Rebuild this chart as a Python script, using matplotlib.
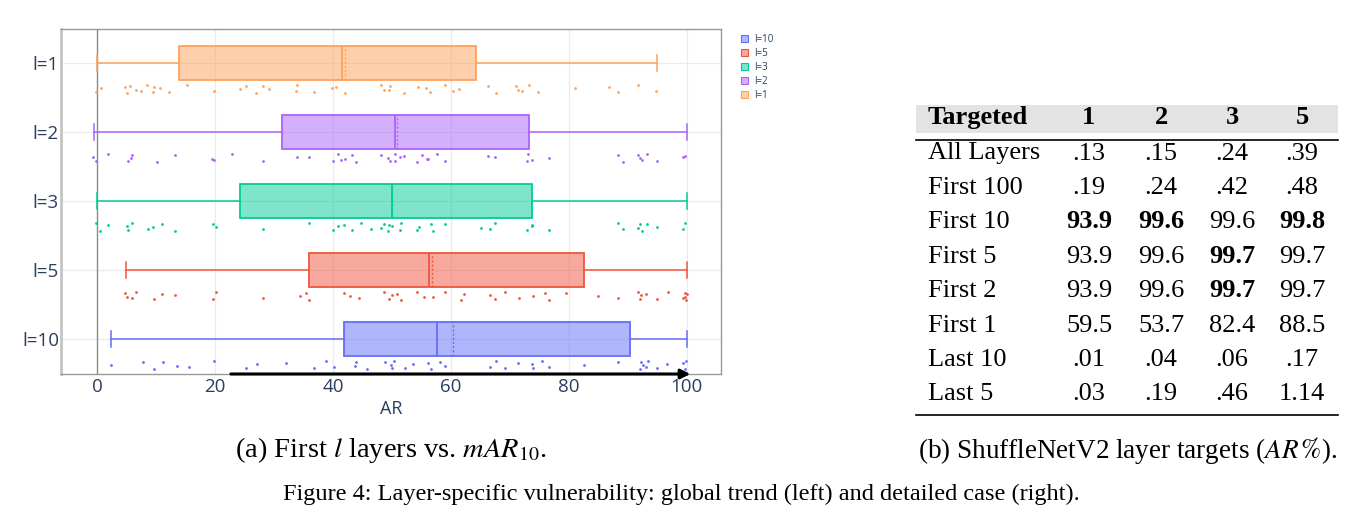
import numpy as np
import matplotlib
matplotlib.use("Agg")
import matplotlib.pyplot as plt
from matplotlib.patches import Patch, Rectangle
from matplotlib.lines import Line2D

# ---------------- data ----------------
categories = ["l=10", "l=5", "l=3", "l=2", "l=1"]
colors = ["#636efa", "#EF553B", "#00cc96", "#ab63fa", "#FFA15A"]

q1 = [41.9, 35.9, 24.3, 31.3, 13.9]
med = [57.7, 56.3, 50.0, 50.5, 41.6]
means = [60.4, 56.8, 50.0, 50.8, 42.1]
q3 = [90.4, 82.6, 73.7, 73.3, 64.2]
whislo = [2.4, 4.9, 0.0, -0.5, 0.0]
whishi = [100.0, 100.0, 100.0, 100.0, 94.9]

pts_l10 = [2.4, 7.8, 9.7, 11.2, 13.5, 15.6, 19.8, 25.3, 27.1, 32.0, 36.8, 38.8, 40.2,
           43.7, 44.0, 45.8, 48.9, 49.8, 50.1, 50.4, 52.2, 53.6, 56.2, 56.7, 58.2, 59.0,
           66.7, 67.7, 69.2, 71.3, 73.7, 73.9, 75.4, 76.7, 82.6, 88.4, 92.0, 92.3, 92.6,
           93.1, 93.4, 94.9, 96.7, 99.3, 99.7, 99.9]
pts_l5 = [4.7, 5.1, 5.9, 6.6, 9.7, 11.0, 13.3, 19.6, 20.2, 28.2, 34.4, 35.4, 35.9,
          41.8, 42.9, 44.4, 48.6, 49.5, 50.0, 50.9, 51.5, 54.3, 55.4, 56.9, 59.0, 61.8,
          62.2, 66.6, 67.4, 69.1, 71.5, 73.9, 76.0, 76.6, 79.5, 84.9, 88.3, 91.8, 92.1,
          92.2, 93.1, 94.9, 96.8, 99.3, 99.7, 99.7, 99.8, 100.0]
pts_l3 = [-0.1, 0.5, 1.8, 5.1, 5.3, 5.9, 8.6, 9.5, 11.0, 13.3, 19.7, 20.1, 28.2, 35.9,
          40.1, 40.8, 41.8, 43.3, 44.7, 46.4, 48.2, 48.7, 49.4, 49.5, 50.0, 51.3, 51.5,
          54.3, 54.6, 56.6, 56.9, 59.0, 65.1, 66.6, 67.4, 72.9, 73.7, 73.8, 76.6, 88.3,
          89.1, 91.8, 92.1, 92.4, 93.2, 94.9, 99.3, 99.7]
pts_l2 = [-0.6, -0.1, 1.8, 5.3, 5.7, 5.9, 10.2, 13.3, 19.5, 19.8, 22.9, 28.2, 33.9,
          35.9, 40.0, 40.8, 41.4, 42.1, 43.3, 44.0, 48.2, 49.4, 49.7, 50.6, 50.6, 51.3,
          52.1, 54.3, 55.1, 55.9, 56.2, 57.6, 59.0, 66.3, 67.4, 72.9, 73.1, 73.7, 76.6,
          88.3, 89.1, 91.8, 92.1, 92.4, 93.2, 94.9, 99.3, 99.7]
pts_l1 = [-0.1, 0.7, 4.7, 5.1, 5.6, 6.7, 7.4, 8.4, 9.5, 9.7, 10.7, 12.2, 15.3, 19.9,
          24.3, 25.3, 27.0, 28.2, 29.2, 33.8, 33.9, 36.8, 39.9, 40.5, 42.1, 48.2, 48.7,
          49.5, 49.7, 52.1, 54.5, 55.7, 56.5, 59.0, 60.3, 61.4, 66.3, 67.6, 71.1, 71.4,
          72.0, 73.2, 74.7, 81.0, 86.8, 88.4, 91.8, 94.7]
points = [pts_l10, pts_l5, pts_l3, pts_l2, pts_l1]

col_headers = ["Targeted", "1", "2", "3", "5"]
row_labels = ["All Layers", "First 100", "First 10", "First 5", "First 2",
              "First 1", "Last 10", "Last 5"]
table_vals = [[".13", ".15", ".24", ".39"],
              [".19", ".24", ".42", ".48"],
              ["93.9", "99.6", "99.6", "99.8"],
              ["93.9", "99.6", "99.7", "99.7"],
              ["93.9", "99.6", "99.7", "99.7"],
              ["59.5", "53.7", "82.4", "88.5"],
              [".01", ".04", ".06", ".17"],
              [".03", ".19", ".46", "1.14"]]
bold_cells = [[False, False, False, False],
              [False, False, False, False],
              [True, True, False, True],
              [False, False, True, False],
              [False, False, True, False],
              [False, False, False, False],
              [False, False, False, False],
              [False, False, False, False]]

# ---------------- figure ----------------
W, H = 1360, 531
plt.rcParams["mathtext.fontset"] = "stix"
fig = plt.figure(figsize=(W / 100, H / 100), dpi=100)


def fx(x):
    return x / W


def fy(y):
    return 1 - y / H


ax = fig.add_axes([fx(61), fy(374), fx(721) - fx(61), fy(29) - fy(374)])
tick_color = "#2a3f5f"
pos = np.arange(len(categories))

stats = []
for i in range(len(categories)):
    stats.append(dict(q1=q1[i], med=med[i], mean=means[i], q3=q3[i],
                      whislo=whislo[i], whishi=whishi[i], fliers=[]))

# grid
for v in [20, 40, 60, 80, 100]:
    ax.axvline(v, color="#ebebeb", lw=0.9, zorder=0)
for p in pos:
    ax.axhline(p, color="#ebebeb", lw=0.9, zorder=0)
ax.axvline(0, color="#8a8a8a", lw=1.0, zorder=0.5)

bp = ax.bxp(stats, positions=pos, widths=0.49, vert=False, patch_artist=True,
            showmeans=True, meanline=True, showfliers=False, capwidths=0.23)
for i, c in enumerate(colors):
    bp["boxes"][i].set(facecolor=matplotlib.colors.to_rgba(c, 0.5), edgecolor=c, lw=1.3)
    bp["medians"][i].set(color=c, lw=1.3)
    bp["means"][i].set(color=c, lw=1.0, linestyle=(0, (1.5, 1.5)))
    for k in (2 * i, 2 * i + 1):
        bp["whiskers"][k].set(color=c, lw=1.1)
        bp["caps"][k].set(color=c, lw=1.1)

# jittered points (deterministic jitter)
for i, (vals, c) in enumerate(zip(points, colors)):
    n = len(vals)
    jit = np.sin(np.arange(n) * 2.399 + i) * 0.055
    ax.scatter(vals, pos[i] - 0.375 + jit, s=4, color=c, linewidths=0, zorder=3)

ax.set_xlim(-6.1, 105.8)
ax.set_ylim(-0.507, 4.493)
ax.set_yticks(pos)
ax.set_yticklabels(categories)
ax.set_xticks([0, 20, 40, 60, 80, 100])
ax.tick_params(axis="both", length=0, labelsize=13.5, labelcolor=tick_color)
ax.tick_params(axis="y", pad=1.5)
ax.tick_params(axis="x", pad=3)
for lab in ax.get_xticklabels() + ax.get_yticklabels():
    lab.set_family("Open Sans")
ax.set_xlabel("AR", fontsize=13, color=tick_color, family="Open Sans", labelpad=3)

for s in ["top", "right", "bottom"]:
    ax.spines[s].set_color("#999999")
    ax.spines[s].set_linewidth(1.0)
ax.spines["left"].set_color("#c4c4c4")
ax.spines["left"].set_linewidth(2.0)

# arrow along the bottom
ax.annotate("", xy=(100.6, -0.507), xytext=(22.7, -0.507),
            arrowprops=dict(arrowstyle="-|>", lw=2.2, color="black", mutation_scale=14,
                            shrinkA=0, shrinkB=0),
            annotation_clip=False, zorder=5)

# legend
handles = [Patch(facecolor=matplotlib.colors.to_rgba(c, 0.5), edgecolor=c, lw=0.8)
           for c in colors]
leg = ax.legend(handles, categories, loc="upper left",
                bbox_to_anchor=(fx(737), fy(30)), bbox_transform=fig.transFigure,
                frameon=False, fontsize=7, handlelength=0.75, handleheight=0.75,
                labelspacing=0.3, handletextpad=0.6, borderaxespad=0)
for t in leg.get_texts():
    t.set_color(tick_color)
    t.set_family("Open Sans")

# ---------------- table ----------------
serif = "Liberation Serif"
tfs = 19
fig.patches.append(Rectangle((fx(916), fy(133)), fx(1338) - fx(916), fy(105) - fy(133),
                             transform=fig.transFigure, facecolor="#e3e3e3",
                             edgecolor="none", zorder=0))
fig.add_artist(Line2D([fx(916), fx(1338)], [fy(140), fy(140)], color="black", lw=1.2))
fig.add_artist(Line2D([fx(916), fx(1338)], [fy(415), fy(415)], color="black", lw=1.2))

col_x = [928, 1089, 1161, 1232, 1302]
fig.text(fx(col_x[0]), fy(124), col_headers[0], family=serif, fontsize=tfs,
         fontweight="bold", ha="left", va="baseline")
for j in range(1, 5):
    fig.text(fx(col_x[j]), fy(124), col_headers[j], family=serif, fontsize=tfs,
             fontweight="bold", ha="center", va="baseline")
for r, lab in enumerate(row_labels):
    yb = 159.5 + 34.4 * r
    fig.text(fx(col_x[0]), fy(yb), lab, family=serif, fontsize=tfs, ha="left",
             va="baseline")
    for j in range(4):
        fig.text(fx(col_x[j + 1]), fy(yb), table_vals[r][j], family=serif, fontsize=tfs,
                 fontweight="bold" if bold_cells[r][j] else "normal",
                 ha="center", va="baseline")

# ---------------- captions ----------------
fig.text(fx(391), fy(450), r"(a) First $l$ layers vs. $mAR_{10}$.", family=serif,
         fontsize=20.5, ha="center", va="center")
fig.text(fx(1128), fy(450), r"(b) ShuffleNetV2 layer targets ($AR\,\%$).", family=serif,
         fontsize=19.5, ha="center", va="center")
fig.text(fx(681), fy(494),
         "Figure 4: Layer-specific vulnerability: global trend (left) and detailed case (right).",
         family=serif, fontsize=17.5, ha="center", va="center")

fig.savefig("out.png", dpi=100)
